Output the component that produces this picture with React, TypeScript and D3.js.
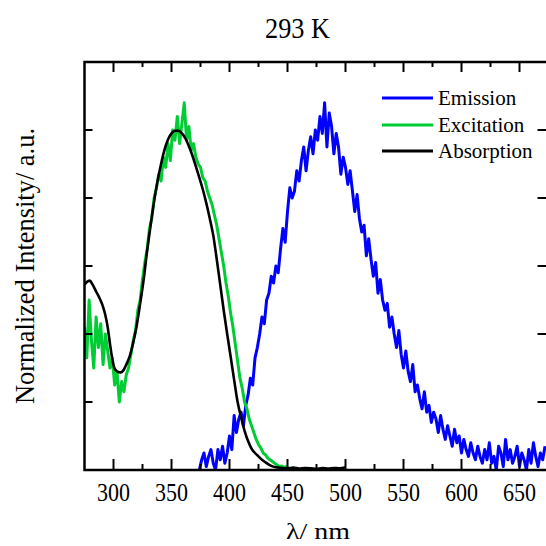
import React from 'react';
import * as d3 from 'd3';

// ---- Data ----
const titleText = '293 K';
const xLabelText = 'λ/ nm';
const yLabelText = 'Normalized Intensity/ a.u.';

// Emission: wavelengths start at 374 nm, every 2 nm
const emissionStart = 374;
const emissionStep = 2;
const emissionValues = [
  0.00, 0.03, 0.05, 0.01, 0.04, 0.06, 0.02, 0.00, 0.06, 0.03,
  0.07, 0.02, 0.05, 0.10, 0.06, 0.16, 0.11, 0.15, 0.17, 0.13,
  0.19, 0.22, 0.27, 0.25, 0.33, 0.36, 0.40, 0.45, 0.43, 0.50,
  0.52, 0.57, 0.55, 0.60, 0.58, 0.65, 0.71, 0.67, 0.76, 0.83,
  0.80, 0.82, 0.88, 0.85, 0.91, 0.95, 0.88, 0.94, 0.98, 0.93,
  1.00, 0.97, 1.04, 0.99, 1.08, 0.95, 1.05, 1.01, 0.93, 0.99,
  0.95, 0.87, 0.92, 0.89, 0.84, 0.88, 0.82, 0.76, 0.81, 0.74,
  0.70, 0.72, 0.63, 0.68, 0.62, 0.57, 0.61, 0.52, 0.56, 0.50,
  0.47, 0.49, 0.42, 0.45, 0.40, 0.36, 0.41, 0.34, 0.30, 0.35,
  0.29, 0.26, 0.31, 0.23, 0.25, 0.21, 0.18, 0.23, 0.17, 0.19,
  0.14, 0.17, 0.15, 0.11, 0.16, 0.12, 0.09, 0.13, 0.10, 0.07,
  0.12, 0.08, 0.10, 0.05, 0.09, 0.06, 0.04, 0.08, 0.05, 0.03,
  0.07, 0.04, 0.02, 0.06, 0.03, 0.08, 0.02, 0.04, 0.00, 0.07,
  0.05, 0.01, 0.09, 0.03, 0.06, 0.02, 0.04, 0.07, 0.01, 0.05,
  0.03, 0.00, 0.06, 0.02, 0.08, 0.04, 0.01, 0.05, 0.03, 0.07,
];

// Excitation: wavelengths start at 275 nm, every 2 nm
const excitationStart = 275;
const excitationStep = 2;
const excitationValues = [
  0.42, 0.33, 0.50, 0.38, 0.30, 0.45, 0.36, 0.43, 0.31, 0.40,
  0.35, 0.30, 0.33, 0.25, 0.29, 0.20, 0.26, 0.23, 0.28, 0.30,
  0.34, 0.38, 0.41, 0.47, 0.50, 0.56, 0.61, 0.65, 0.71, 0.74,
  0.80, 0.83, 0.87, 0.85, 0.92, 0.89, 0.96, 0.91, 1.00, 0.97,
  1.04, 0.96, 1.02, 1.08, 0.97, 1.01, 0.94, 0.96, 0.92, 0.90,
  0.89, 0.86, 0.85, 0.82, 0.80, 0.78, 0.75, 0.72, 0.68, 0.64,
  0.60, 0.55, 0.51, 0.46, 0.42, 0.37, 0.32, 0.27, 0.24, 0.20,
  0.18, 0.15, 0.13, 0.11, 0.09, 0.075, 0.065, 0.05, 0.045, 0.035,
  0.03, 0.025, 0.02, 0.015, 0.01, 0.012, 0.008, 0.01, 0.005,
];

// Absorption (smooth)
const absorptionWavelengths = [
  275, 277, 279.5, 282, 285, 288, 291, 293, 295, 297, 299, 301, 303.5, 306, 308.5,
  311, 314, 317, 320, 323, 326, 329, 332, 335, 338, 341, 344, 347, 350, 353, 356,
  359, 362, 365, 368, 371, 374, 377, 380, 383, 386, 389, 392, 395, 398, 401, 404,
  407, 410, 413, 416, 419, 422, 425, 428, 432, 436, 440, 445, 450, 455, 460, 465,
  470, 475, 480, 485, 490, 495, 500,
];
const absorptionValues = [
  0.545, 0.553, 0.557, 0.545, 0.525, 0.505, 0.48, 0.455, 0.42, 0.37, 0.325, 0.298, 0.289, 0.287, 0.293,
  0.31, 0.335, 0.375, 0.425, 0.49, 0.56, 0.645, 0.72, 0.79, 0.85, 0.9, 0.942, 0.972, 0.99, 0.998, 0.998,
  0.99, 0.975, 0.952, 0.925, 0.893, 0.86, 0.825, 0.785, 0.74, 0.69, 0.62, 0.545, 0.47, 0.4, 0.333, 0.265,
  0.2, 0.155, 0.115, 0.085, 0.063, 0.05, 0.04, 0.03, 0.02, 0.012, 0.008, 0.006, 0.005, 0.007, 0.004, 0.006,
  0.005, 0.003, 0.006, 0.004, 0.006, 0.005, 0.008,
];

const xMajorTicks = [300, 350, 400, 450, 500, 550, 600, 650];
const xMinorTicks = [325, 375, 425, 475, 525, 575, 625];
const yTicks = [0.2, 0.4, 0.6, 0.8, 1.0];

const legendLabels = ['Emission', 'Excitation', 'Absorption'];
const seriesColors = ['#0000ff', '#00cc33', '#000000'];

const FONT = "'Liberation Serif', 'Times New Roman', serif";

export default function App() {
  const left = 84.5, right = 548.5, top = 62, bottom = 470;
  const x = d3.scaleLinear().domain([275, 675]).range([left, right]);
  const y = d3.scaleLinear().domain([0, 1.2]).range([bottom, top]);

  const emission: [number, number][] = emissionValues.map((v, i) => [emissionStart + i * emissionStep, v]);
  const excitation: [number, number][] = excitationValues.map((v, i) => [excitationStart + i * excitationStep, v]);
  const absorption: [number, number][] = absorptionValues.map((v, i) => [absorptionWavelengths[i], v]);

  const noisy = d3.line<[number, number]>().x(d => x(d[0])).y(d => y(d[1]));
  const smooth = d3.line<[number, number]>().x(d => x(d[0])).y(d => y(d[1])).curve(d3.curveMonotoneX);

  const legendY = [98, 125, 151];

  return (
    <svg width={546} height={546} style={{ position: 'absolute', left: 0, top: 0, background: '#fff' }}
      fontFamily={FONT}>
      <defs>
        <clipPath id="plotClip">
          <rect x={left} y={top} width={right - left} height={bottom - top} />
        </clipPath>
      </defs>

      <g clipPath="url(#plotClip)" fill="none" strokeLinejoin="round">
        <path d={noisy(emission) || ''} stroke={seriesColors[0]} strokeWidth={3} />
        <path d={noisy(excitation) || ''} stroke={seriesColors[1]} strokeWidth={3} />
        <path d={smooth(absorption) || ''} stroke={seriesColors[2]} strokeWidth={2.6} />
      </g>

      {/* frame */}
      <rect x={left} y={top} width={right - left} height={bottom - top} fill="none" stroke="#000" strokeWidth={2.5} />

      {/* x ticks bottom and top */}
      {xMajorTicks.map(t => (
        <g key={'xM' + t}>
          <line x1={x(t)} x2={x(t)} y1={bottom} y2={bottom - 11} stroke="#000" strokeWidth={2} />
          <line x1={x(t)} x2={x(t)} y1={top} y2={top + 10} stroke="#000" strokeWidth={2} />
          <text x={x(t)} y={500.5} textAnchor="middle" fontSize={25} textLength={33}
            lengthAdjust="spacingAndGlyphs" fill="#000">{t}</text>
        </g>
      ))}
      {xMinorTicks.map(t => (
        <g key={'xm' + t}>
          <line x1={x(t)} x2={x(t)} y1={bottom} y2={bottom - 6} stroke="#000" strokeWidth={2} />
          <line x1={x(t)} x2={x(t)} y1={top} y2={top + 5} stroke="#000" strokeWidth={2} />
        </g>
      ))}
      {/* y ticks left and right */}
      {yTicks.map(t => (
        <g key={'y' + t}>
          <line x1={left} x2={left + 8} y1={y(t)} y2={y(t)} stroke="#000" strokeWidth={2} />
          <line x1={right} x2={right - 11} y1={y(t)} y2={y(t)} stroke="#000" strokeWidth={2} />
        </g>
      ))}

      {/* legend */}
      {legendLabels.map((lab, i) => (
        <g key={lab}>
          <line x1={382} x2={433} y1={legendY[i]} y2={legendY[i]} stroke={seriesColors[i]} strokeWidth={3} />
          <text x={438} y={legendY[i] + 7} fontSize={21} fill="#000">{lab}</text>
        </g>
      ))}

      {/* title and axis labels */}
      <text x={297.5} y={37.5} textAnchor="middle" fontSize={30} textLength={65}
        lengthAdjust="spacingAndGlyphs" fill="#000">{titleText}</text>
      <text x={318} y={539} textAnchor="middle" fontSize={24} textLength={64}
        lengthAdjust="spacingAndGlyphs" fill="#000">{xLabelText}</text>
      <text transform="translate(33.5,266) rotate(-90)" textAnchor="middle" fontSize={28}
        textLength={276} lengthAdjust="spacingAndGlyphs" fill="#000">{yLabelText}</text>
    </svg>
  );
}
